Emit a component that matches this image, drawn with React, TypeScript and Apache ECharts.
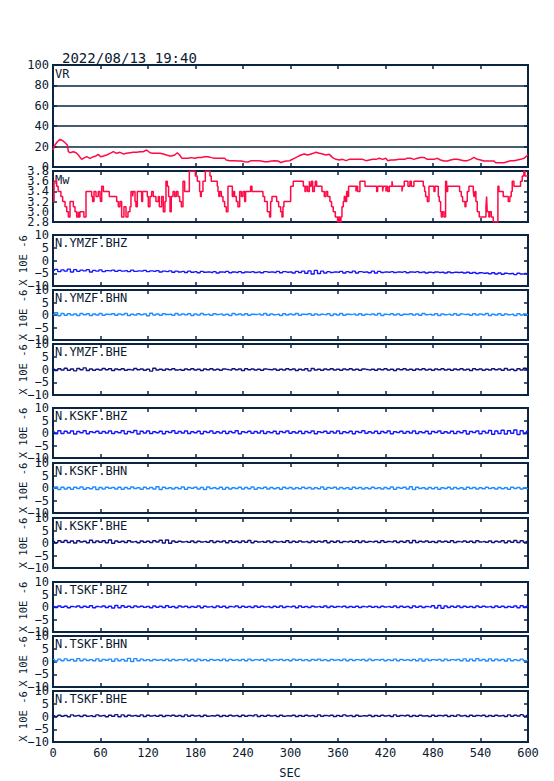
import React, { useEffect, useRef } from "react";
import * as echarts from "echarts";

// ---------- data ----------
const TITLE = "2022/08/13 19:40";
const X_MIN = 0;
const X_MAX = 600;
const X_STEP = 60;
const SAMPLE_STEP = 4; // seconds between seismogram samples

// Variance reduction [sec, %]
const vrData: [number, number][] = [
  [0, 16.7], [2.5, 21.6], [5.5, 24.8], [8.8, 27.1], [12.2, 25.8], [15.2, 23.8], [18.1, 21.6], [19.4, 15],
  [21.5, 14], [25.7, 15], [29.1, 14], [32, 11.8], [36.2, 7.5], [38.3, 8.5], [42.5, 10.1], [46.7, 8.5],
  [50.9, 10.1], [54.3, 10.8], [57.2, 12.4], [60.2, 10.1], [63.6, 10.8], [67.8, 11.8], [72, 13.4], [76.2, 15],
  [80.4, 13.4], [84.6, 14.4], [88.8, 12.8], [93, 13.4], [97.2, 14], [101.4, 14.4], [105.6, 14.4], [109.9, 15],
  [114.1, 15], [118.3, 16.7], [122.5, 14], [126.7, 13.4], [130.9, 13.4], [135.1, 13.4], [139.3, 12.8], [143.5, 11.8],
  [147.8, 10.8], [149.4, 10.8], [153.7, 11.8], [157, 14], [160, 11.8], [162.9, 8.5], [166.3, 8.5], [170.5, 8.5],
  [174.7, 9.2], [178.9, 8.5], [183.1, 9.4], [187.3, 9.4], [191.5, 10.1], [195.8, 10.1], [200, 9.2], [204.2, 8.5],
  [208.4, 8.5], [212.6, 8.5], [216.8, 8.5], [218.9, 6.9], [223.1, 6.2], [229.4, 6.2], [233.6, 5.9], [237.9, 5.9],
  [242.1, 5.2], [246.3, 4.9], [250.5, 6.2], [254.7, 6.2], [258.9, 6.2], [263.1, 5.9], [267.3, 5.2], [271.6, 5.2],
  [275.8, 5.9], [280, 6.2], [284.2, 5.9], [288.4, 4.2], [290.5, 5.2], [294.7, 5.9], [299.3, 6.2], [300.6, 6.9],
  [304.8, 8.5], [309, 10.1], [313.2, 11.8], [317.4, 12.8], [321.6, 11.8], [325.9, 12.8], [328.8, 13.4], [332.1, 14.4],
  [336.4, 13.4], [340.6, 12.8], [344.8, 11.8], [349, 12.4], [353.2, 9.2], [357.4, 7.5], [361.6, 6.9], [365.9, 7.5],
  [370.1, 6.2], [374.3, 7.5], [378.5, 7.5], [386.9, 7.5], [391.1, 7.5], [395.4, 6.2], [399.6, 6.9], [403.8, 7.5],
  [408, 7.5], [412.2, 8.5], [416.4, 7.5], [420.6, 8.5], [422.7, 6.2], [426.9, 6.9], [431.2, 6.9], [437.5, 7.5],
  [443.8, 7.5], [447.5, 8.5], [451.7, 8.5], [455.9, 7.5], [460.2, 8.5], [464.4, 9.4], [468.6, 9.4], [472.8, 7.5],
  [477, 7.5], [481.2, 7.5], [485.4, 8.5], [489.6, 6.9], [493.8, 5.9], [498.1, 5.9], [502.3, 6.9], [506.5, 7.5],
  [510.7, 7.5], [514.9, 6.9], [519.1, 6.2], [523.3, 6.2], [527.5, 7.5], [531.7, 9.4], [536, 7.5], [540.2, 6.9],
  [544.4, 5.9], [552.8, 5.9], [557, 5.9], [559.1, 4.2], [565.4, 4.2], [569.6, 4.2], [573.8, 5.2], [578.1, 6.2],
  [582.3, 6.2], [586.5, 6.9], [590.7, 7.5], [594.9, 8.5], [598.3, 10.8], [600, 11.8],
];

// Moment magnitude [sec, Mw] (value holds until the next point)
const mwData: [number, number][] = [
  [0, 3.2], [1.3, 3.6], [4.6, 3.5], [6.5, 3.4], [10, 3.3], [12.2, 3.2], [15.2, 3.1], [17.3, 3.0], [19.4, 2.9],
  [21.5, 3.2], [25.7, 3.1], [27.8, 3.0], [29.9, 2.9], [32, 3.0], [32.8, 2.9], [34, 3.0], [39, 2.9], [41.7, 3.4],
  [48.8, 3.3], [50, 3.2], [51.8, 3.4], [54.3, 3.3], [57.2, 3.4], [59.4, 3.3], [60.2, 3.2], [61.5, 3.5], [63.6, 3.4],
  [71.1, 3.3], [80.4, 3.2], [82.5, 3.1], [84.6, 3.2], [86.7, 2.9], [89.6, 3.1], [92.2, 2.9], [94.7, 3.0], [97.2, 3.1],
  [98.5, 3.4], [100.6, 3.3], [101.4, 3.4], [103.6, 3.2], [104.8, 3.1], [106.5, 3.4], [112, 3.2], [113.2, 3.4],
  [119.1, 3.3], [120.4, 3.1], [122.5, 3.3], [124.6, 3.4], [126.7, 3.3], [130, 3.2], [133, 3.3], [134.3, 3.1],
  [137.2, 3.3], [139.3, 3.0], [141.4, 3.2], [142.7, 3.6], [144.4, 3.5], [146, 3.3], [147.8, 3.0], [149.4, 3.3],
  [151.6, 3.4], [153.7, 3.3], [155.8, 3.4], [157.9, 3.3], [160, 3.2], [162.1, 3.1], [164.2, 3.6], [166.3, 3.4],
  [172.2, 3.8], [179.8, 3.7], [182.3, 3.6], [185.2, 3.4], [186.3, 3.3], [187.3, 3.4], [189.4, 3.6], [192.4, 3.8],
  [198.3, 3.7], [199.9, 3.6], [207.5, 3.5], [208.4, 3.4], [209.5, 3.3], [210.5, 3.4], [212.6, 3.3], [214.7, 3.2],
  [216.8, 3.1], [218.9, 3.0], [221, 3.5], [226.5, 3.3], [228.2, 3.4], [229.4, 3.3], [231.5, 3.2], [233.6, 3.1],
  [235.8, 3.4], [237.9, 3.3], [240, 3.4], [242.1, 3.2], [243.3, 3.4], [249.6, 3.5], [251.3, 3.4], [265.2, 3.3],
  [267.3, 3.2], [270.7, 3.0], [273.6, 2.9], [274.9, 3.2], [276.6, 3.3], [282.5, 3.2], [285, 3.1], [287.5, 3.0],
  [289.2, 2.9], [290.5, 3.1], [291.7, 3.2], [300.2, 3.5], [303.5, 3.6], [316.2, 3.5], [318.3, 3.4], [319.5, 3.5],
  [321.6, 3.4], [323.8, 3.6], [324.6, 3.5], [326.3, 3.6], [328, 3.4], [330.1, 3.5], [331.3, 3.6], [333, 3.5],
  [339.7, 3.4], [342.7, 3.3], [344.8, 3.4], [346.9, 3.3], [349.8, 3.2], [351.9, 3.1], [354, 3.0], [356.6, 2.9],
  [359.5, 2.8], [360.8, 2.9], [362.4, 2.8], [363.7, 2.9], [365, 3.1], [366.7, 3.2], [367.9, 3.3], [369.2, 3.2],
  [370.9, 3.4], [372.1, 3.3], [373.4, 3.5], [382.7, 3.4], [383.5, 3.5], [384.8, 3.4], [387.7, 3.6], [394.1, 3.5],
  [408.8, 3.4], [410.1, 3.5], [416.4, 3.4], [417.2, 3.5], [420.6, 3.4], [421.4, 3.5], [422.7, 3.4], [424.8, 3.5],
  [428.2, 3.6], [429, 3.5], [440.8, 3.4], [441.6, 3.5], [443.7, 3.6], [448.4, 3.5], [450.9, 3.6], [452.6, 3.5],
  [455.9, 3.6], [467.7, 3.5], [469.4, 3.4], [470.7, 3.3], [472.8, 3.2], [474.9, 3.5], [481.2, 3.4], [482.5, 3.5],
  [486.7, 3.3], [487.9, 3.2], [489.6, 3.0], [490.5, 2.9], [491.7, 3.0], [493.8, 2.9], [495.9, 3.6], [497.2, 3.4],
  [498.5, 3.5], [513.6, 3.4], [515.7, 3.3], [517.4, 3.2], [520.4, 3.1], [521.6, 3.2], [523.3, 3.4], [525.4, 3.5],
  [530.9, 3.4], [531.7, 3.3], [533, 3.4], [534.2, 3.2], [535.9, 3.0], [538.4, 2.9], [546.9, 3.1], [547.7, 3.3],
  [548.5, 3.0], [550.6, 2.9], [551.5, 3.0], [553.6, 2.9], [556.1, 2.8], [562, 3.5], [563.3, 3.4], [568.7, 3.3],
  [575, 3.2], [577.1, 3.3], [578.8, 3.4], [580.1, 3.6], [582.2, 3.5], [590.6, 3.6], [592.7, 3.7], [594.8, 3.8],
  [596.1, 3.7], [600, 3.7],
];

// Seismograms (x 10E-6), one sample every SAMPLE_STEP seconds from 0 to 600
const ymzfBhz = [
  -3.9, -3.5, -4.4, -3.7, -4.2, -3.4, -4.5, -3.6, -4.3, -3.8,
  -4.1, -3.6, -4.5, -3.9, -4.2, -3.7, -4.4, -4.0, -4.1, -3.8,
  -4.3, -3.9, -4.2, -4.0, -4.4, -3.8, -4.3, -4.1, -4.2, -3.9,
  -4.4, -4.1, -4.3, -4.0, -4.5, -4.2, -4.4, -4.1, -4.6, -4.2,
  -4.5, -4.3, -4.7, -4.2, -4.6, -4.4, -4.8, -4.3, -4.6, -4.5,
  -4.7, -4.4, -4.9, -4.5, -4.6, -4.3, -4.8, -4.5, -4.7, -4.4,
  -4.8, -4.5, -4.6, -4.4, -4.7, -4.5, -4.8, -4.4, -4.6, -4.5,
  -4.7, -4.3, -4.8, -4.4, -4.6, -4.5, -4.9, -4.3, -4.7, -4.2,
  -5.0, -4.1, -5.3, -3.9, -5.1, -4.2, -4.9, -4.4, -4.7, -4.5,
  -4.6, -4.3, -4.9, -4.4, -4.7, -4.2, -4.9, -4.4, -4.6, -4.5,
  -4.8, -4.2, -4.9, -4.3, -4.7, -4.5, -4.6, -4.4, -4.7, -4.5,
  -4.6, -4.4, -4.8, -4.5, -4.6, -4.4, -4.7, -4.5, -4.9, -4.6,
  -4.8, -4.5, -4.7, -4.6, -4.9, -4.5, -4.8, -4.6, -4.7, -4.6,
  -4.9, -4.6, -5.0, -4.7, -5.1, -4.8, -5.0, -4.9, -5.2, -4.8,
  -5.3, -4.9, -5.4, -5.0, -5.2, -5.1, -5.5, -5.0, -5.3, -5.1,
  -5.3,
];
const ymzfBhn = [
  0.2, 0.9, -0.3, 0.6, -0.1, 0.5, 0.0, 0.4, -0.2, 0.6,
  0.1, 0.5, -0.2, 0.4, 0.0, 0.6, -0.1, 0.3, 0.2, 0.5,
  -0.1, 0.4, 0.1, 0.6, -0.2, 0.3, 0.0, 0.5, 0.1, 0.4,
  -0.3, 0.7, 0.0, 0.4, -0.1, 0.5, 0.2, 0.3, -0.1, 0.6,
  0.0, 0.4, 0.1, 0.5, -0.2, 0.4, 0.0, 0.6, 0.1, 0.3,
  -0.1, 0.5, 0.2, 0.4, 0.0, 0.3, -0.2, 0.6, 0.1, 0.4,
  0.0, 0.5, -0.1, 0.3, 0.2, 0.4, 0.0, 0.6, -0.1, 0.4,
  0.1, 0.3, -0.2, 0.5, 0.0, 0.4, 0.1, 0.6, -0.1, 0.3,
  0.2, 0.5, -0.1, 0.4, 0.0, 0.3, 0.1, 0.5, -0.2, 0.4,
  0.0, 0.6, -0.1, 0.3, 0.2, 0.4, 0.0, 0.5, -0.1, 0.3,
  0.1, 0.4, 0.0, 0.6, -0.2, 0.3, 0.1, 0.5, 0.0, 0.4,
  -0.1, 0.3, 0.2, 0.5, 0.0, 0.4, -0.1, 0.6, 0.1, 0.3,
  0.0, 0.5, -0.2, 0.4, 0.1, 0.3, 0.0, 0.5, -0.1, 0.4,
  0.2, 0.3, -0.1, 0.5, 0.0, 0.4, 0.1, 0.6, -0.2, 0.3,
  0.0, 0.5, -0.1, 0.4, 0.1, 0.3, -0.2, 0.5, 0.0, 0.4,
  0.1,
];
const ymzfBhe = [
  0.1, -0.4, 0.3, -0.2, 0.5, -0.3, 0.2, -0.5, 0.4, -0.1,
  0.6, -0.4, 0.2, -0.3, 0.1, -0.2, 0.4, -0.1, 0.3, -0.4,
  0.2, -0.1, 0.3, -0.3, 0.0, -0.2, 0.4, -0.1, 0.2, -0.3,
  0.1, -0.6, 0.5, -0.2, 0.1, -0.3, 0.2, -0.1, 0.3, -0.2,
  0.0, -0.3, 0.2, -0.1, 0.3, -0.2, 0.1, -0.4, 0.2, -0.1,
  0.3, -0.2, 0.1, -0.3, 0.2, 0.0, -0.2, 0.3, -0.1, 0.2,
  -0.4, 0.3, -0.1, 0.2, -0.2, 0.1, -0.3, 0.2, 0.0, -0.1,
  0.2, -0.3, 0.1, -0.2, 0.3, -0.1, 0.2, -0.4, 0.1, -0.2,
  0.3, -0.5, 0.4, -0.2, 0.1, -0.3, 0.2, -0.1, 0.3, -0.2,
  0.1, -0.3, 0.2, -0.1, 0.3, -0.2, 0.1, -0.3, 0.2, 0.0,
  -0.2, 0.1, -0.3, 0.2, -0.1, 0.3, -0.2, 0.1, -0.4, 0.2,
  -0.1, 0.3, -0.2, 0.1, -0.3, 0.2, -0.1, 0.3, -0.2, 0.1,
  -0.3, 0.2, -0.1, 0.3, -0.2, 0.1, -0.3, 0.2, -0.1, 0.3,
  -0.2, 0.1, -0.4, 0.3, -0.1, 0.2, -0.3, 0.1, -0.2, 0.3,
  -0.1, 0.2, -0.3, 0.4, -0.2, 0.1, -0.4, 0.3, -0.2, 0.5,
  -0.1,
];
const kskfBhz = [
  0.4, -0.3, 0.9, -0.2, 0.7, 0.0, 0.8, -0.4, 0.6, 0.1,
  0.9, -0.3, 0.5, 0.2, 0.7, -0.1, 0.6, 0.0, 0.8, -0.2,
  0.5, 0.1, 0.9, -0.3, 0.6, 0.2, 1.0, -0.4, 0.7, 0.0,
  0.8, -0.2, 0.5, 0.1, 0.7, -0.3, 0.6, 0.2, 0.9, -0.1,
  0.6, 0.0, 0.8, -0.2, 0.5, 0.1, 0.7, -0.3, 0.6, 0.2,
  0.8, -0.1, 0.5, 0.0, 0.7, -0.2, 0.6, 0.1, 0.9, -0.3,
  0.5, 0.2, 0.7, -0.1, 0.6, 0.0, 0.8, -0.2, 0.5, 0.1,
  0.7, -0.3, 0.6, 0.2, 0.8, -0.1, 0.5, 0.0, 0.7, -0.2,
  0.6, 0.1, 0.8, -0.3, 0.5, 0.2, 0.7, -0.1, 0.6, 0.0,
  0.8, -0.2, 0.5, 0.1, 0.7, -0.3, 0.6, 0.2, 0.9, -0.1,
  0.5, 0.0, 0.7, -0.2, 0.6, 0.1, 0.8, -0.3, 0.5, 0.2,
  0.7, -0.1, 0.6, 0.0, 0.8, -0.2, 0.5, 0.1, 0.7, -0.3,
  0.6, 0.2, 0.8, -0.1, 0.5, 0.0, 0.7, -0.2, 0.6, 0.1,
  0.9, -0.4, 0.6, 0.2, 0.8, -0.3, 0.7, 0.0, 1.0, -0.5,
  0.8, -0.2, 1.1, -0.4, 0.9, -0.1, 1.2, -0.6, 0.9, -0.3,
  0.7,
];
const kskfBhn = [
  -0.1, 0.4, -0.6, 0.3, -0.4, 0.2, -0.5, 0.3, -0.2, 0.4,
  -0.5, 0.1, -0.3, 0.4, -0.6, 0.2, -0.4, 0.3, -0.1, 0.2,
  -0.4, 0.3, -0.5, 0.2, -0.3, 0.4, -0.2, 0.1, -0.5, 0.3,
  -0.3, 0.2, -0.4, 0.5, -0.6, 0.3, -0.2, 0.1, -0.4, 0.2,
  -0.3, 0.4, -0.5, 0.2, -0.1, 0.3, -0.4, 0.2, -0.6, 0.4,
  -0.2, 0.1, -0.3, 0.3, -0.5, 0.2, -0.4, 0.1, -0.2, 0.3,
  -0.4, 0.2, -0.3, 0.4, -0.5, 0.1, -0.2, 0.3, -0.4, 0.2,
  -0.3, 0.1, -0.5, 0.3, -0.2, 0.2, -0.4, 0.1, -0.3, 0.3,
  -0.2, 0.2, -0.4, 0.1, -0.3, 0.4, -0.5, 0.2, -0.1, 0.3,
  -0.4, 0.2, -0.3, 0.1, -0.5, 0.3, -0.2, 0.2, -0.4, 0.1,
  -0.3, 0.3, -0.2, 0.1, -0.4, 0.2, -0.3, 0.4, -0.5, 0.2,
  -0.1, 0.3, -0.4, 0.5, -0.6, 0.3, -0.2, 0.1, -0.4, 0.2,
  -0.3, 0.2, -0.5, 0.1, -0.2, 0.3, -0.4, 0.2, -0.3, 0.1,
  -0.5, 0.3, -0.2, 0.2, -0.4, 0.1, -0.3, 0.3, -0.2, 0.1,
  -0.4, 0.2, -0.3, 0.1, -0.5, 0.3, -0.2, 0.2, -0.4, 0.1,
  -0.2,
];
const kskfBhe = [
  0.6, 0.1, 0.9, 0.3, 1.0, 0.2, 0.8, 0.0, 0.9, 0.4,
  0.7, 0.1, 1.1, 0.2, 0.8, 0.3, 0.9, 0.1, 1.2, -0.1,
  0.8, 0.3, 0.7, 0.2, 0.9, 0.4, 0.6, 0.1, 0.8, 0.3,
  0.7, 0.2, 0.9, 0.4, 1.1, 0.0, 1.2, -0.1, 0.8, 0.3,
  0.7, 0.4, 0.6, 0.3, 0.8, 0.2, 0.7, 0.4, 0.6, 0.3,
  0.9, 0.2, 0.7, 0.4, 0.8, 0.1, 0.9, 0.3, 0.7, 0.2,
  0.8, 0.3, 1.0, 0.1, 0.7, 0.4, 0.6, 0.3, 0.8, 0.2,
  0.7, 0.4, 0.6, 0.3, 0.9, 0.2, 0.7, 0.3, 0.8, 0.4,
  0.6, 0.2, 0.8, 0.3, 0.7, 0.4, 0.9, 0.1, 0.7, 0.3,
  0.8, 0.2, 0.6, 0.4, 0.7, 0.3, 0.9, 0.2, 0.8, 0.3,
  0.6, 0.4, 0.7, 0.2, 0.9, 0.3, 0.6, 0.4, 0.8, 0.2,
  0.7, 0.3, 0.9, 0.1, 1.0, 0.2, 0.7, 0.4, 0.8, 0.3,
  0.6, 0.2, 0.8, 0.4, 0.7, 0.3, 0.9, 0.2, 0.6, 0.4,
  0.8, 0.3, 0.7, 0.2, 0.9, 0.4, 0.6, 0.3, 0.8, 0.2,
  0.7, 0.4, 0.9, 0.1, 0.8, 0.3, 1.0, 0.2, 0.9, 0.3,
  0.6,
];
const tskfBhz = [
  0.2, -0.2, 0.4, -0.1, 0.3, -0.3, 0.2, 0.0, 0.4, -0.2,
  0.3, -0.1, 0.5, -0.3, 0.2, 0.0, 0.4, -0.2, 0.3, -0.4,
  0.6, -0.3, 0.5, -0.1, 0.3, -0.2, 0.4, 0.0, 0.3, -0.1,
  0.2, -0.3, 0.4, -0.1, 0.3, -0.2, 0.5, -0.1, 0.2, -0.3,
  0.4, 0.0, 0.3, -0.2, 0.2, -0.1, 0.4, -0.3, 0.3, 0.0,
  0.2, -0.2, 0.4, -0.1, 0.3, -0.3, 0.2, 0.0, 0.4, -0.2,
  0.3, -0.1, 0.2, -0.2, 0.4, -0.1, 0.3, 0.0, 0.2, -0.2,
  0.3, -0.1, 0.4, -0.2, 0.2, 0.0, 0.3, -0.3, 0.4, -0.1,
  0.2, -0.2, 0.3, 0.0, 0.2, -0.1, 0.4, -0.2, 0.3, -0.1,
  0.2, 0.0, 0.3, -0.2, 0.2, -0.1, 0.3, -0.2, 0.2, 0.0,
  0.3, -0.1, 0.2, -0.2, 0.3, 0.0, 0.2, -0.1, 0.4, -0.2,
  0.3, -0.1, 0.2, -0.3, 0.4, -0.1, 0.3, -0.2, 0.2, 0.0,
  0.5, -0.4, 0.6, -0.5, 0.4, -0.2, 0.3, -0.1, 0.4, -0.2,
  0.3, -0.1, 0.2, -0.2, 0.4, -0.1, 0.3, 0.0, 0.2, -0.2,
  0.4, -0.1, 0.3, -0.2, 0.2, -0.1, 0.4, -0.3, 0.5, -0.2,
  0.3,
];
const tskfBhn = [
  0.7, 0.2, 0.9, 0.3, 1.0, 0.4, 0.8, 0.2, 1.1, 0.3,
  0.9, 0.4, 0.7, 0.3, 1.0, 0.2, 0.8, 0.5, 0.9, 0.1,
  1.0, 0.3, 0.8, 0.2, 1.2, 0.0, 1.1, 0.3, 0.9, 0.4,
  0.7, 0.3, 0.8, 0.5, 0.7, 0.4, 0.9, 0.3, 0.8, 0.4,
  0.7, 0.5, 0.9, 0.3, 0.8, 0.2, 0.9, 0.4, 0.7, 0.3,
  0.8, 0.5, 0.7, 0.4, 0.9, 0.3, 0.8, 0.5, 0.7, 0.4,
  0.8, 0.3, 0.9, 0.4, 0.7, 0.5, 0.8, 0.3, 0.9, 0.4,
  0.7, 0.5, 0.8, 0.4, 0.7, 0.3, 0.9, 0.5, 0.8, 0.4,
  0.7, 0.3, 0.8, 0.5, 0.9, 0.4, 0.7, 0.3, 0.8, 0.5,
  0.7, 0.4, 0.9, 0.3, 0.8, 0.4, 0.7, 0.5, 0.8, 0.3,
  0.9, 0.4, 0.7, 0.5, 0.8, 0.3, 0.7, 0.4, 0.9, 0.3,
  0.8, 0.5, 0.7, 0.4, 0.8, 0.3, 1.0, 0.2, 0.9, 0.4,
  0.7, 0.5, 0.8, 0.3, 0.9, 0.4, 0.7, 0.5, 0.8, 0.3,
  1.0, 0.2, 0.9, 0.3, 1.1, 0.4, 0.8, 0.2, 1.0, 0.3,
  0.9, 0.4, 0.8, 0.2, 1.0, 0.3, 0.7, 0.4, 0.9, 0.3,
  0.5,
];
const tskfBhe = [
  0.3, 0.0, 0.5, 0.1, 0.4, -0.1, 0.6, 0.2, 0.4, 0.0,
  0.5, 0.1, 0.3, 0.0, 0.6, 0.2, 0.4, -0.1, 0.5, 0.1,
  0.7, -0.1, 0.6, 0.0, 0.5, 0.2, 0.4, 0.1, 0.6, 0.0,
  0.5, 0.2, 0.4, 0.1, 0.5, 0.0, 0.4, 0.2, 0.5, 0.1,
  0.4, 0.0, 0.6, 0.1, 0.5, 0.2, 0.4, 0.0, 0.5, 0.1,
  0.3, 0.2, 0.5, 0.0, 0.4, 0.1, 0.5, 0.2, 0.4, 0.0,
  0.5, 0.1, 0.4, 0.2, 0.6, 0.0, 0.4, 0.1, 0.5, 0.2,
  0.4, 0.0, 0.5, 0.1, 0.3, 0.2, 0.5, 0.0, 0.4, 0.1,
  0.5, 0.2, 0.4, 0.0, 0.6, 0.1, 0.4, 0.2, 0.5, 0.0,
  0.4, 0.1, 0.6, 0.2, 0.4, 0.0, 0.5, 0.1, 0.3, 0.2,
  0.5, 0.0, 0.4, 0.1, 0.5, 0.2, 0.4, 0.0, 0.6, 0.1,
  0.4, 0.2, 0.5, 0.0, 0.4, 0.1, 0.5, 0.2, 0.3, 0.0,
  0.5, 0.1, 0.4, 0.2, 0.5, 0.0, 0.4, 0.1, 0.6, 0.2,
  0.4, 0.0, 0.5, 0.1, 0.4, 0.2, 0.5, 0.0, 0.4, 0.1,
  0.5, 0.2, 0.4, 0.0, 0.6, 0.1, 0.5, 0.2, 0.7, 0.1,
  0.4,
];

const traceNames = [
  "N.YMZF.BHZ", "N.YMZF.BHN", "N.YMZF.BHE",
  "N.KSKF.BHZ", "N.KSKF.BHN", "N.KSKF.BHE",
  "N.TSKF.BHZ", "N.TSKF.BHN", "N.TSKF.BHE",
];
const traceValues = [ymzfBhz, ymzfBhn, ymzfBhe, kskfBhz, kskfBhn, kskfBhe, tskfBhz, tskfBhn, tskfBhe];

// ---------- styling / layout ----------
const FRAME = "#0b2442";
const TEXT = "#0a1a30";
const RED = "#ff0a46";
const COMP_COLORS: Record<string, string> = { BHZ: "#1414ff", BHN: "#1e8cff", BHE: "#10107e" };
const MONO = '"DejaVu Sans Mono", monospace';

const LEFT = 53;
const WIDTH = 475;
// [top, height] for VR, Mw and the nine traces
const PANELS: [number, number][] = [
  [65, 102], [171, 51],
  [235, 51], [290, 50], [344, 51],
  [408, 50], [463, 50], [518, 50],
  [582, 50], [636, 51], [691, 51],
];

export default function App() {
  const ref = useRef<HTMLDivElement>(null);

  useEffect(() => {
    if (!ref.current) return;
    const chart = echarts.init(ref.current, undefined, { renderer: "svg" });

    const grids = PANELS.map(([top, height]) => ({
      left: LEFT, width: WIDTH, top, height,
      show: true, borderColor: FRAME, borderWidth: 2, backgroundColor: "transparent",
    }));

    const tickStyle = { show: true, inside: true, length: 4, lineStyle: { color: FRAME, width: 1.5 } };
    const labelFont = { fontFamily: MONO, fontSize: 12, color: TEXT };
    const last = PANELS.length - 1;

    const xAxis: any[] = [];
    const yAxis: any[] = [];
    const yMain: number[] = [];
    PANELS.forEach((_, g) => {
      const base = { type: "value", gridIndex: g, min: X_MIN, max: X_MAX, interval: X_STEP,
        axisLine: { show: false, onZero: false }, axisTick: tickStyle, splitLine: { show: false } };
      xAxis.push({ ...base, position: "bottom",
        axisLabel: g === last
          ? { ...labelFont, margin: 5, showMinLabel: true, showMaxLabel: true, hideOverlap: false }
          : { show: false } });
      xAxis.push({ ...base, position: "top", axisLabel: { show: false } });

      let range: any;
      let fmt: (v: number) => string;
      if (g === 0) {
        range = { min: 0, max: 100, interval: 20 };
        fmt = (v) => String(v);
      } else if (g === 1) {
        range = { min: 2.8, max: 3.8, interval: 0.2 };
        fmt = (v) => v.toFixed(1);
      } else {
        range = { min: -10, max: 10, interval: 5 };
        fmt = (v) => (v < 0 ? "\u2212" + Math.abs(v) : String(v));
      }
      const yBase = { type: "value", gridIndex: g, ...range,
        axisLine: { show: false, onZero: false }, axisTick: tickStyle };
      yMain.push(yAxis.length);
      yAxis.push({
        ...yBase, position: "left",
        axisLabel: {
          ...labelFont, margin: 4, formatter: fmt,
          showMinLabel: true, showMaxLabel: true, hideOverlap: false,
        },
        splitLine: g === 0 ? { show: true, lineStyle: { color: FRAME, width: 1.5 } } : { show: false },
        ...(g >= 2 ? {
          name: "X 10E -6", nameLocation: "middle", nameRotate: 90, nameGap: 25, nameMoveOverlap: false,
          nameTextStyle: { fontFamily: MONO, fontSize: 10.5, color: TEXT },
        } : {}),
      });
      yAxis.push({ ...yBase, position: "right", axisLabel: { show: false }, splitLine: { show: false } });
      if (g === 1) {
        // second label layer: the labels next to min / max that the first layer drops
        const first = range.min;
        const lastV = range.max;
        yAxis.push({
          ...yBase, position: "left", axisTick: { show: false }, splitLine: { show: false },
          axisLabel: {
            ...labelFont, margin: 4, showMinLabel: false, showMaxLabel: false, hideOverlap: false,
            formatter: (v: number) =>
              Math.abs(v - (first + range.interval)) < 1e-6 || Math.abs(v - (lastV - range.interval)) < 1e-6
                ? v.toFixed(1) : "",
          },
        });
      }
    });

    const series: any[] = [
      { type: "line", xAxisIndex: 0, yAxisIndex: yMain[0], data: vrData, showSymbol: false, silent: true,
        lineStyle: { color: RED, width: 1.5 }, itemStyle: { color: RED } },
      { type: "line", xAxisIndex: 2, yAxisIndex: yMain[1], data: mwData, step: "end", showSymbol: false, silent: true,
        lineStyle: { color: RED, width: 1.5 }, itemStyle: { color: RED } },
    ];
    traceValues.forEach((vals, k) => {
      const g = k + 2;
      const color = COMP_COLORS[traceNames[k].slice(-3)];
      series.push({
        type: "line", xAxisIndex: 2 * g, yAxisIndex: yMain[g],
        data: vals.map((v, i) => [i * SAMPLE_STEP, v]),
        step: "middle", showSymbol: false, silent: true,
        lineStyle: { color, width: 1.3 }, itemStyle: { color },
      });
    });

    const label = (text: string, x: number, y: number, size = 12, align = "left") => ({
      type: "text", x, y, silent: true,
      style: {
        text, fill: TEXT, font: `${size}px ${MONO}`,
        textAlign: align, align, textVerticalAlign: "middle", verticalAlign: "middle",
      },
    });

    const graphic: any[] = [
      label(TITLE, 62, 58, 14),
      label("VR", 55, 74),
      label("Mw", 55, 180),
      ...traceNames.map((n, k) => label(n, 55, PANELS[k + 2][0] + 8)),
      label("SEC", 290, 773, 12, "center"),
    ];

    chart.setOption({
      animation: false,
      backgroundColor: "#ffffff",
      grid: grids,
      xAxis,
      yAxis,
      series,
      graphic,
    });

    return () => chart.dispose();
  }, []);

  return (
    <div
      ref={ref}
      style={{ position: "fixed", left: 0, top: 0, width: 554, height: 781, background: "#fff" }}
    />
  );
}
